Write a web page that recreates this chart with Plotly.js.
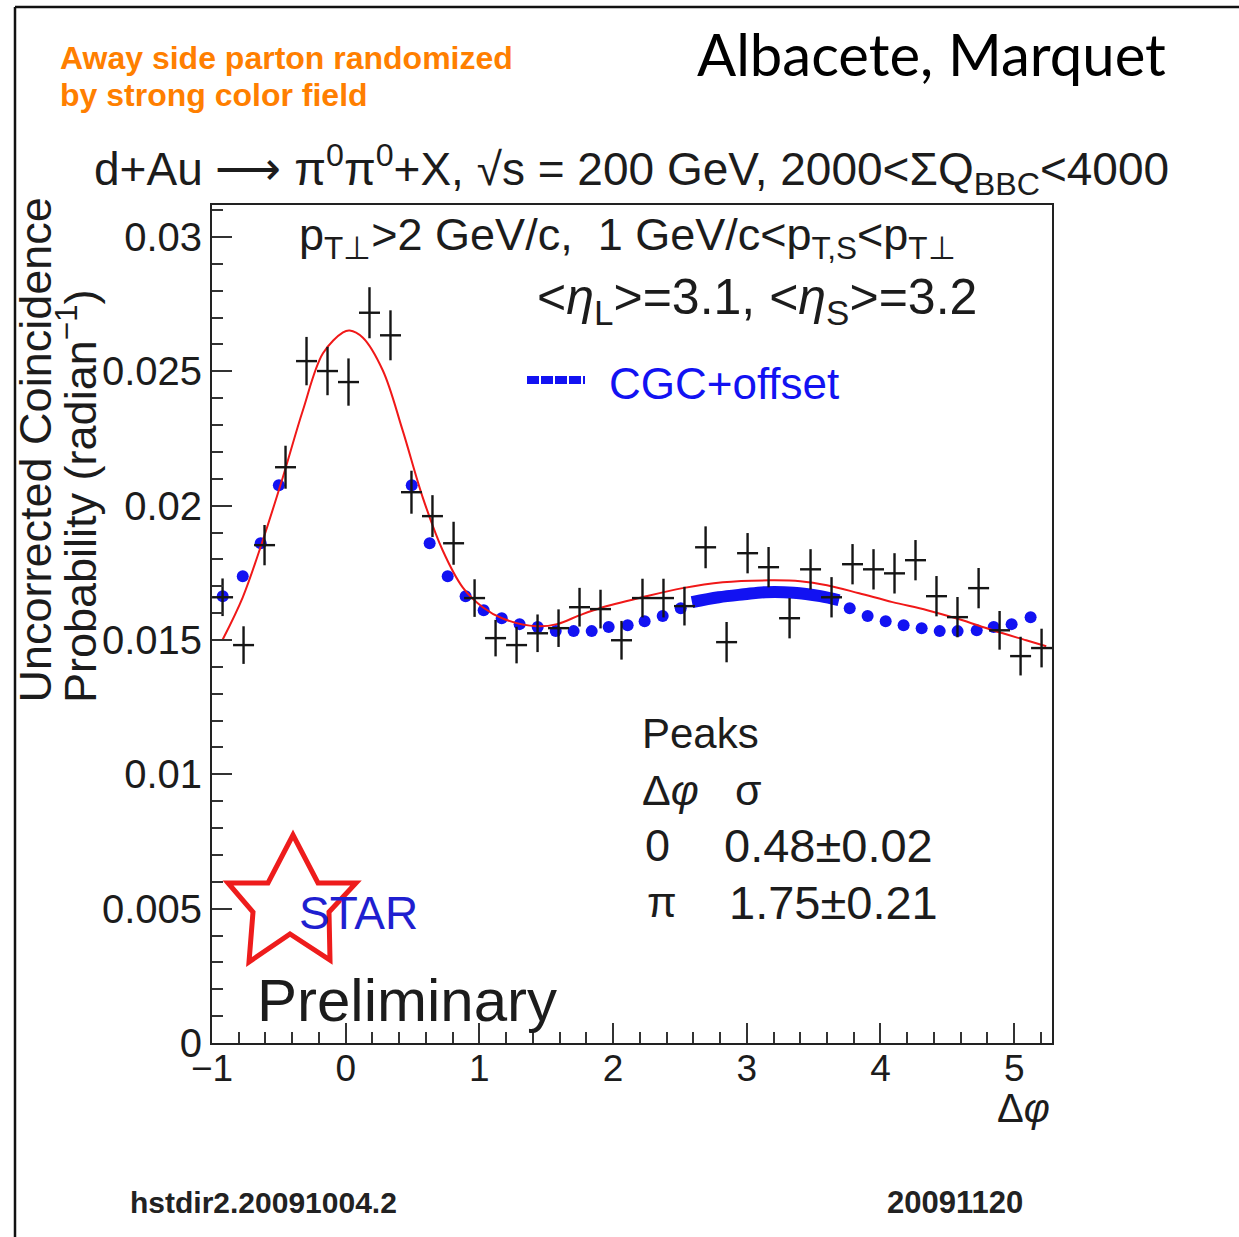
<!DOCTYPE html>
<html>
<head>
<meta charset="utf-8">
<script src="https://cdn.plot.ly/plotly-3.0.1.min.js"></script>
<style>
  html, body { margin: 0; padding: 0; background: #ffffff; }
  #chart { width: 1239px; height: 1237px; }
</style>
</head>
<body>
<div id="chart"></div>
<script>
// ---------------- data ----------------
// STAR measurement: bin centres (rad) and uncorrected coincidence probability
const binCenters = [-0.921, -0.764, -0.607, -0.450, -0.293, -0.136, 0.021, 0.178, 0.335, 0.492,
                    0.649, 0.807, 0.964, 1.121, 1.278, 1.435, 1.592, 1.749, 1.906, 2.063,
                    2.220, 2.377, 2.534, 2.692, 2.849, 3.006, 3.163, 3.320, 3.477, 3.634,
                    3.791, 3.948, 4.105, 4.262, 4.419, 4.576, 4.734, 4.891, 5.048, 5.205];
const obsProb = [0.01659, 0.01481, 0.01853, 0.02143, 0.02538, 0.02501, 0.02460, 0.02718, 0.02634, 0.02050,
                 0.01961, 0.01860, 0.01656, 0.01507, 0.01481, 0.01525, 0.01544, 0.01622, 0.01615, 0.01499,
                 0.01656, 0.01656, 0.01626, 0.01845, 0.01492, 0.01823, 0.01771, 0.01581, 0.01763, 0.01659,
                 0.01782, 0.01763, 0.01748, 0.01797, 0.01663, 0.01585, 0.01693, 0.01536, 0.01440, 0.01470];
const obsErr = [0.00070, 0.00070, 0.00075, 0.00080, 0.00090, 0.00090, 0.00088, 0.00095, 0.00093, 0.00080,
                0.00078, 0.00080, 0.00070, 0.00068, 0.00068, 0.00070, 0.00070, 0.00072, 0.00072, 0.00072,
                0.00072, 0.00072, 0.00072, 0.00078, 0.00075, 0.00075, 0.00075, 0.00075, 0.00075, 0.00075,
                0.00075, 0.00075, 0.00075, 0.00075, 0.00075, 0.00075, 0.00075, 0.00072, 0.00072, 0.00072];
const halfBinWidth = 0.0785;

// CGC + offset calculation (sparse points) and the dense band around pi
const cgcPhi  = [-0.920, -0.770, -0.636, -0.500, 0.494, 0.628, 0.763, 0.897, 1.032, 1.167,
                 1.301, 1.436, 1.571, 1.705, 1.840, 1.967, 2.109, 2.236, 2.371, 2.506,
                 3.770, 3.904, 4.039, 4.173, 4.308, 4.443, 4.577, 4.720, 4.847, 4.981, 5.123];
const cgcProb = [0.01663, 0.01737, 0.01860, 0.02076, 0.02076, 0.01860, 0.01737, 0.01663, 0.01611, 0.01581,
                 0.01559, 0.01548, 0.01533, 0.01533, 0.01533, 0.01548, 0.01555, 0.01570, 0.01589, 0.01618,
                 0.01618, 0.01589, 0.01570, 0.01555, 0.01544, 0.01533, 0.01533, 0.01536, 0.01548, 0.01559, 0.01585];
const cgcBandPhi  = [2.59, 2.79, 2.98, 3.14, 3.35, 3.55, 3.69];
const cgcBandProb = [0.01641, 0.01659, 0.01670, 0.01678, 0.01676, 0.01663, 0.01648];

// Two-Gaussian fit curve
const fitPhi  = [-0.92, -0.77, -0.62, -0.47, -0.32, -0.17, -0.02, 0.03, 0.127, 0.277,
                 0.426, 0.576, 0.725, 0.875, 1.025, 1.174, 1.43, 1.58, 1.75, 1.90,
                 2.22, 2.52, 2.82, 3.17, 3.40, 3.60, 3.84, 4.09, 4.35, 4.59,
                 4.84, 5.09, 5.24];
const fitProb = [0.01502, 0.01659, 0.01871, 0.02106, 0.02355, 0.02567, 0.02645, 0.02652, 0.02626, 0.02504,
                 0.02280, 0.02031, 0.01834, 0.01696, 0.01622, 0.01580, 0.01551, 0.01559, 0.01592, 0.01618,
                 0.01659, 0.01693, 0.01715, 0.01722, 0.01719, 0.01704, 0.01674, 0.01641, 0.01611, 0.01577,
                 0.01536, 0.01499, 0.01477];

const xTickVals = [-1, 0, 1, 2, 3, 4, 5];
const xTickText = ["\u22121", "0", "1", "2", "3", "4", "5"];
const yTickVals = [0, 0.005, 0.01, 0.015, 0.02, 0.025, 0.03];
const yTickText = ["0", "0.005", "0.01", "0.015", "0.02", "0.025", "0.03"];

// ---------------- layout helpers ----------------
const W = 1239, H = 1237;
const M = { l: 212, r: 187, t: 205, b: 194 };
const PW = W - M.l - M.r, PH = H - M.t - M.b;
function px(x) { return (x - M.l) / PW; }
function py(y) { return (H - M.b - y) / PH; }

const ROOTFONT = "Liberation Sans, Arial, Helvetica, sans-serif";
const INK = "#1c1c1c";
const BLUE = "#1212f2";

function note(text, x, y, opts) {
  return Object.assign({
    text: text, xref: "paper", yref: "paper", x: px(x), y: py(y),
    xanchor: "left", yanchor: "middle", showarrow: false,
    font: { family: ROOTFONT, size: 42, color: INK }
  }, opts || {});
}
function f(size, color, extra) { return Object.assign({ family: ROOTFONT, size: size, color: color || INK }, extra || {}); }

const traces = [
  {
    x: cgcBandPhi, y: cgcBandProb, type: "scatter", mode: "lines",
    line: { color: BLUE, width: 12, shape: "spline" },
    name: "CGC+offset", showlegend: false, hoverinfo: "skip"
  },
  {
    x: cgcPhi, y: cgcProb, type: "scatter", mode: "markers",
    marker: { color: BLUE, size: 12, symbol: "circle" },
    name: "CGC+offset", showlegend: false
  },
  {
    x: fitPhi, y: fitProb, type: "scatter", mode: "lines",
    line: { color: "#f01818", width: 2, shape: "spline", smoothing: 1 },
    name: "fit", showlegend: false
  },
  {
    x: binCenters, y: obsProb, type: "scatter", mode: "markers",
    marker: { size: 1, color: "rgba(0,0,0,0)" },
    error_y: { type: "data", array: obsErr, visible: true, color: "#151515", thickness: 2.4, width: 0 },
    error_x: { type: "constant", value: halfBinWidth, visible: true, color: "#151515", thickness: 2.4, width: 0 },
    name: "STAR", showlegend: false
  }
];

// STAR logo star outline (decoration)
const starPts = [[228, 883], [268, 883], [293, 835], [318, 883], [356, 883], [329, 912],
                 [330, 960], [290, 934], [249, 962], [253, 912]];
const starPath = "M " + starPts.map(p => px(p[0]).toFixed(5) + "," + py(p[1]).toFixed(5)).join(" L ") + " Z";

const layout = {
  width: W, height: H,
  margin: M,
  paper_bgcolor: "#ffffff", plot_bgcolor: "#ffffff",
  showlegend: false,
  xaxis: {
    range: [-1, 5.283], tickvals: xTickVals, ticktext: xTickText,
    ticks: "inside", ticklen: 20, tickwidth: 2, tickcolor: "#333",
    minor: { dtick: 0.2, tick0: 0, ticks: "inside", ticklen: 11, tickwidth: 2, tickcolor: "#333", showgrid: false },
    showgrid: false, zeroline: false,
    showline: true, mirror: true, linecolor: "#222", linewidth: 2,
    tickfont: f(37),
    ticklabelstandoff: -8
  },
  yaxis: {
    range: [0, 0.03119], tickvals: yTickVals, ticktext: yTickText,
    ticks: "inside", ticklen: 20, tickwidth: 2, tickcolor: "#333",
    minor: { dtick: 0.001, tick0: 0, ticks: "inside", ticklen: 11, tickwidth: 2, tickcolor: "#333", showgrid: false },
    showgrid: false, zeroline: false,
    showline: true, mirror: true, linecolor: "#222", linewidth: 2,
    tickfont: f(40),
    ticklabelstandoff: 0
  },
  shapes: [
    { type: "line", xref: "paper", yref: "paper", x0: px(15), x1: px(15), y0: py(7), y1: py(1240),
      line: { color: "#111", width: 2.5 } },
    { type: "line", xref: "paper", yref: "paper", x0: px(15), x1: px(1242), y0: py(7), y1: py(7),
      line: { color: "#111", width: 2.5 } },
    { type: "line", xref: "paper", yref: "paper", x0: px(527), x1: px(585), y0: py(380), y1: py(380),
      line: { color: BLUE, width: 8, dash: "12px,2px" } },
    { type: "path", xref: "paper", yref: "paper", path: starPath,
      line: { color: "#ee1c1c", width: 5 }, fillcolor: "rgba(0,0,0,0)" }
  ],
  annotations: [
    note("Away side parton randomized", 58, 58, { font: f(32, "#ff7f00", { weight: "bold" }) }),
    note("by strong color field", 58, 95, { font: f(32, "#ff7f00", { weight: "bold" }) }),
    note("Albacete, Marquet", 1168, 54,
         { xanchor: "right", font: { family: "Lato, 'Open Sans', sans-serif", size: 58, color: "#000" } }),
    note("d+Au \u27f6 \u03c0<sup>0</sup>\u03c0<sup>0</sup>+X, \u221As = 200 GeV, 2000&lt;\u03a3Q<sub>BBC</sub>&lt;4000", 631, 170,
         { xanchor: "center", font: f(46) }),
    note("p<sub>T\u22a5</sub>&gt;2 GeV/c,\u00a0\u00a01 GeV/c&lt;p<sub>T,S</sub>&lt;p<sub>T\u22a5</sub>", 297, 237, { font: f(45) }),
    note("&lt;<i>\u03b7</i><sub>L</sub>&gt;=3.1, &lt;<i>\u03b7</i><sub>S</sub>&gt;=3.2", 535, 300, { font: f(50) }),
    note("CGC+offset", 607, 383, { font: f(44, BLUE) }),
    note("Peaks", 640, 733, { font: f(42) }),
    note("\u0394<i>\u03c6</i>", 640, 790, { font: f(43) }),
    note("\u03c3", 733, 790, { font: f(43) }),
    note("0", 643, 845, { font: f(45) }),
    note("0.48\u00b10.02", 722, 845, { font: f(47) }),
    note("\u03c0", 645, 902, { font: f(43) }),
    note("1.75\u00b10.21", 727, 902, { font: f(47) }),
    note("STAR", 297, 913, { font: f(46, "#1f1fd0") }),
    note("Preliminary", 255, 1000, { font: f(60) }),
    note("\u0394<i>\u03c6</i>", 1052, 1108, { xanchor: "right", font: f(40) }),
    note("hstdir2.20091004.2", 128, 1202, { font: f(30, "#222", { weight: "bold" }) }),
    note("20091120", 885, 1202, { font: f(31, "#222", { weight: "bold" }) }),
    note("Uncorrected Coincidence", 35, 705,
         { textangle: -90, xanchor: "center", yanchor: "bottom", font: f(45) }),
    note("Probability (radian<sup>\u22121</sup>)", 77, 705,
         { textangle: -90, xanchor: "center", yanchor: "bottom", font: f(45) })
  ]
};

Plotly.newPlot("chart", traces, layout, { staticPlot: true, displayModeBar: false });
</script>
</body>
</html>
